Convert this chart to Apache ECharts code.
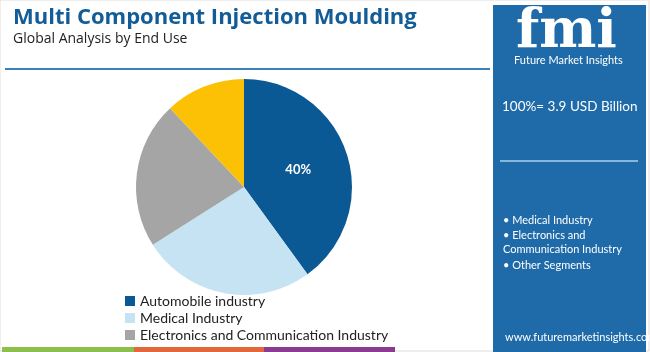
<!DOCTYPE html>
<html>
    <head>
        <title>Multi Component Injection Moulding</title>
        <meta charset="UTF-8">
        <script src="https://cdn.jsdelivr.net/npm/echarts@6/dist/echarts.min.js"></script>
        <style>
            body { margin: 0; background-color: #fff; }
            #main { width: 650px; height: 352px; }
        </style>
    </head>
    <body>
        <div id="main"></div>
        <script>
            // segments by end use
            var segments = ['Automobile industry', 'Medical Industry', 'Electronics and Communication Industry', 'Other Segments'];
            var shares = [40, 26, 22, 12];
            var colors = ['#0b5994', '#c6e3f4', '#a5a5a5', '#fcc104'];
            var legendItems = segments.slice(0, 3);
            var panelBullets = ['\u2022 Medical Industry', '\u2022 Electronics and', 'Communication Industry', '\u2022 Other Segments'];

            var chart = echarts.init(document.getElementById('main'));

            var pieData = [];
            for (var i = 0; i < segments.length; i++) {
                pieData.push({
                    name: segments[i],
                    value: shares[i],
                    itemStyle: {color: colors[i]},
                    label: {show: i === 0}
                });
            }

            var bulletY = [222, 237, 251, 267];
            var bulletText = [];
            for (var j = 0; j < panelBullets.length; j++) {
                bulletText.push({
                    type: 'text', left: 503, top: bulletY[j] - 7,
                    style: {text: panelBullets[j], fill: '#fff', font: '11px Lato'}
                });
            }

            var option = {
                animation: false,
                title: {
                    text: 'Multi Component Injection Moulding',
                    subtext: 'Global Analysis by End Use',
                    left: 8, top: 2,
                    itemGap: 3,
                    textStyle: {color: '#125d97', fontSize: 22, fontWeight: 'bold', fontFamily: 'Open Sans'},
                    subtextStyle: {color: '#222', fontSize: 14, fontFamily: 'Open Sans'}
                },
                legend: {
                    data: legendItems,
                    orient: 'vertical',
                    left: 120, top: 289, height: 80,
                    itemWidth: 10, itemHeight: 10,
                    itemGap: 3,
                    icon: 'rect',
                    textStyle: {fontSize: 14, color: '#222', fontFamily: 'Lato'}
                },
                graphic: [
                    {type: 'rect', shape: {x: 0, y: 0, width: 649, height: 351}, style: {fill: 'none', stroke: '#ddd', lineWidth: 1}, z: -1},
                    {type: 'line', shape: {x1: 5, y1: 69, x2: 490, y2: 69}, style: {stroke: '#3b80b8', lineWidth: 2}},
                    {type: 'rect', shape: {x: 493, y: 5, width: 153, height: 347}, style: {fill: '#1f6aa8'}},
                    {type: 'text', left: 516, top: 6, style: {text: 'fmi', fill: '#fff', font: 'bold 54px "DejaVu Serif"'}},
                    {type: 'text', left: 514, top: 55, style: {text: 'Future Market Insights', fill: '#fff', font: '11px Lato'}},
                    {type: 'text', left: 502, top: 100, style: {text: '100%= 3.9 USD Billion', fill: '#fff', font: '13.5px Lato'}},
                    {type: 'line', shape: {x1: 500, y1: 161, x2: 638, y2: 161}, style: {stroke: '#a9d0ee', lineWidth: 1.5}},
                    {type: 'text', left: 505, top: 332, style: {text: 'www.futuremarketinsights.com', fill: '#fff', font: '11px Lato'}},
                    {type: 'rect', shape: {x: 2, y: 347, width: 132, height: 5}, style: {fill: '#8cbf4d'}},
                    {type: 'rect', shape: {x: 134, y: 347, width: 130, height: 5}, style: {fill: '#e2673c'}},
                    {type: 'rect', shape: {x: 264, y: 347, width: 131, height: 5}, style: {fill: '#8a3b8f'}}
                ].concat(bulletText),
                series: [{
                    type: 'pie',
                    center: [244, 187],
                    radius: 108,
                    startAngle: 90,
                    label: {
                        position: 'inside',
                        formatter: '{c}%',
                        color: '#fff',
                        fontSize: 13,
                        fontWeight: 'bold',
                        fontFamily: 'Lato'
                    },
                    labelLine: {show: false},
                    itemStyle: {borderWidth: 0},
                    emphasis: {disabled: true},
                    data: pieData
                }]
            };
            chart.setOption(option);
        </script>
    </body>
</html>
